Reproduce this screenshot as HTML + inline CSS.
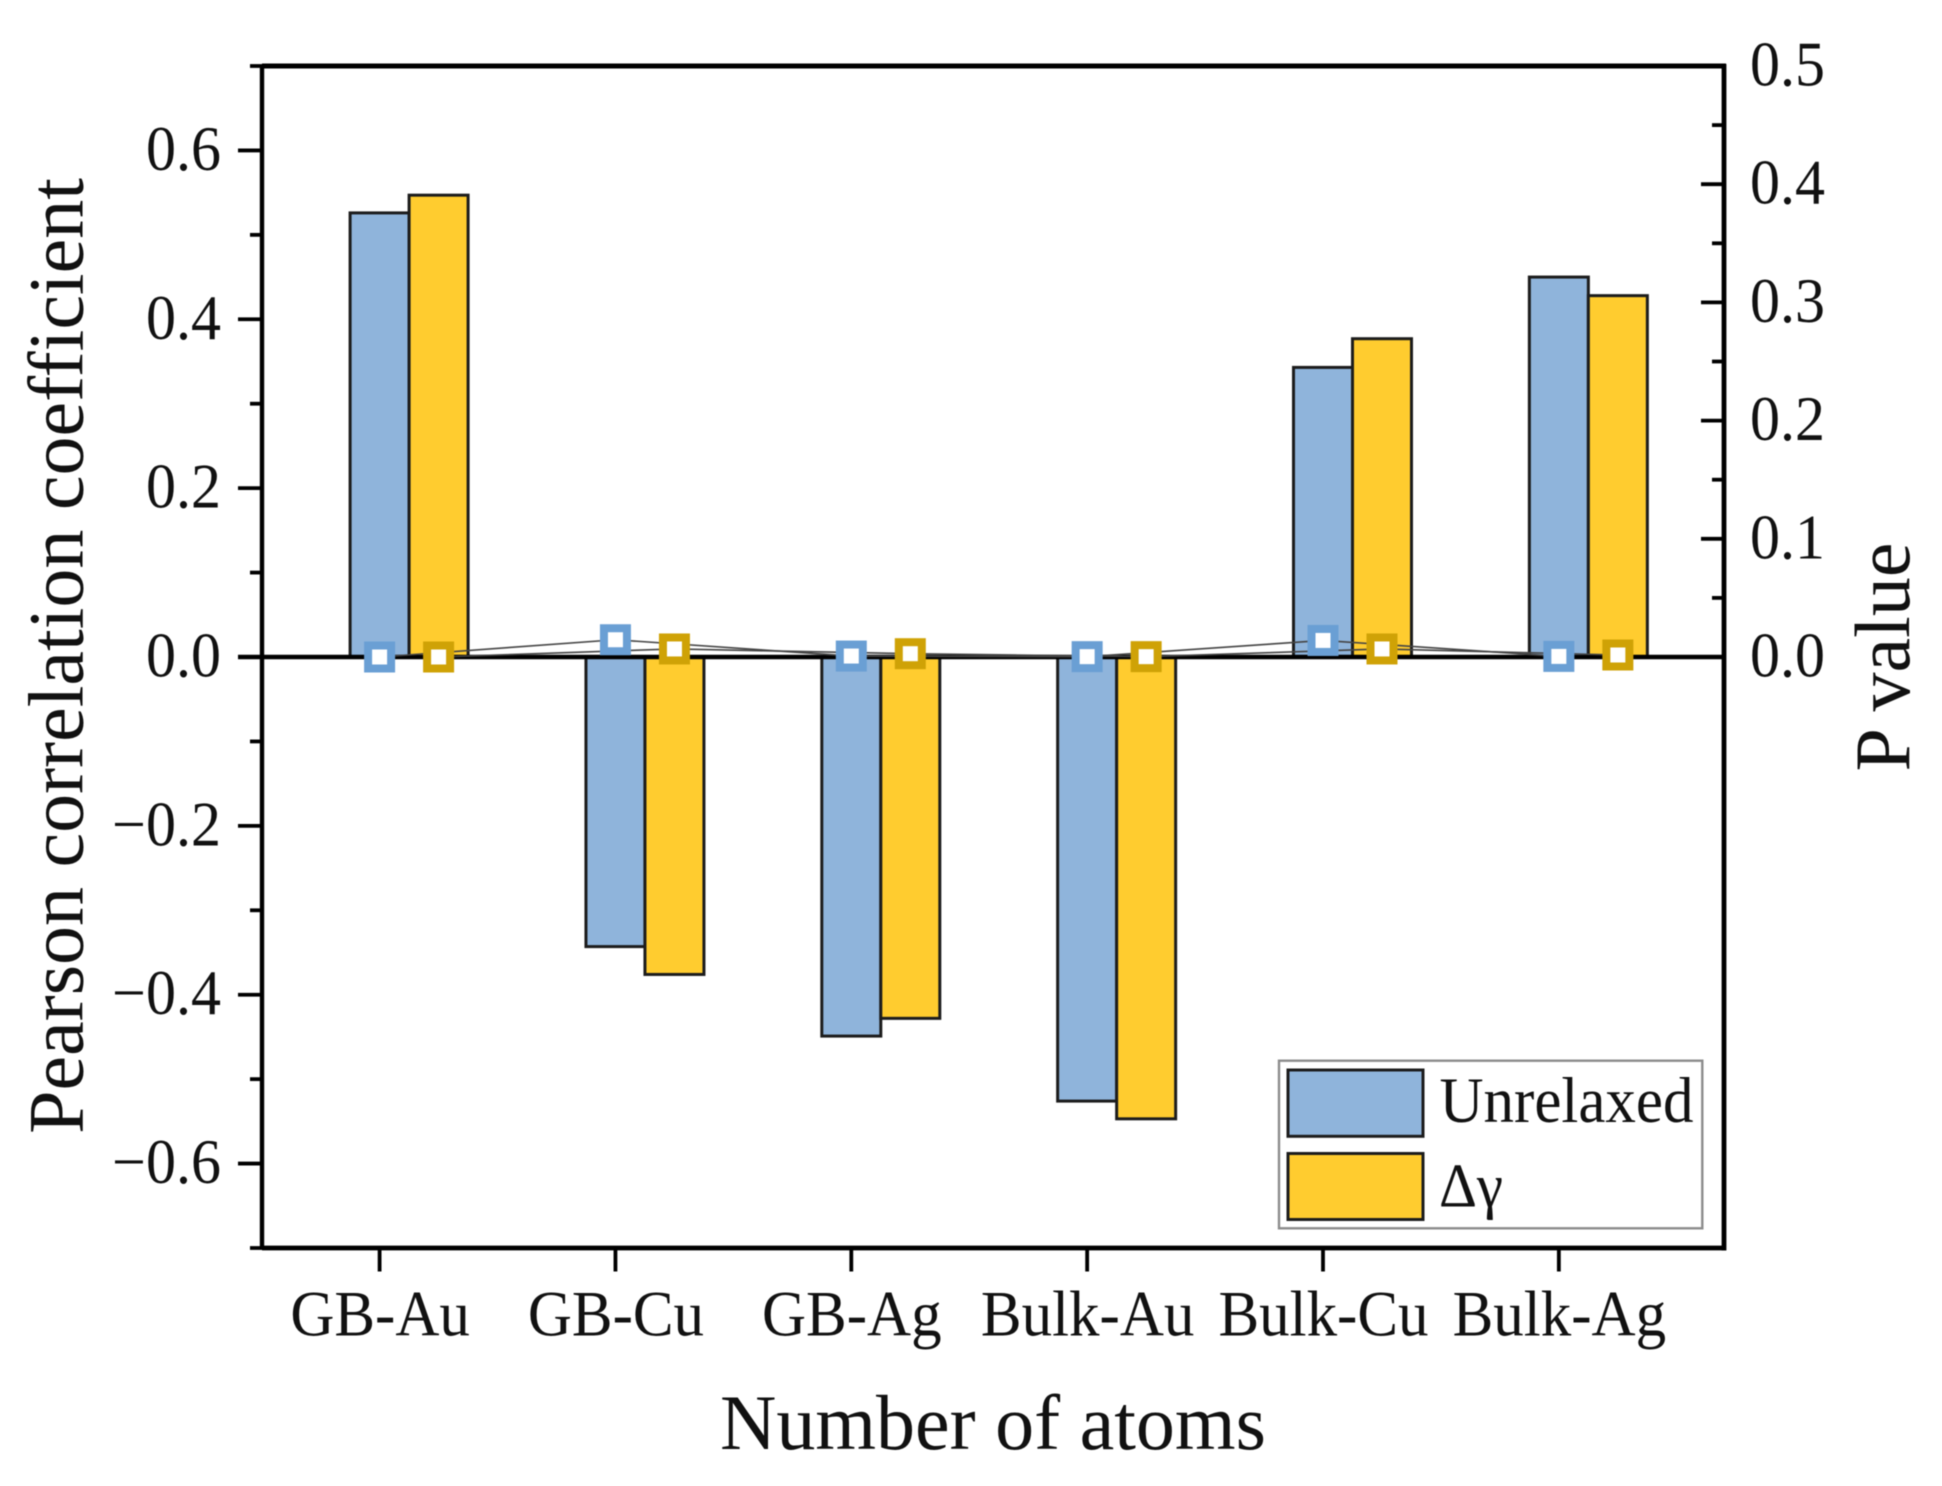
<!DOCTYPE html>
<html lang="en">
<head>
<meta charset="utf-8">
<title>Pearson correlation coefficient and P value by group</title>
<style>
html,body{margin:0;padding:0;background:#fff;}
body{width:1942px;height:1486px;overflow:hidden;}
svg{display:block;filter:blur(0.5px);}
text{font-family:"Liberation Serif","DejaVu Serif",serif;fill:#111;}
</style>
</head>
<body>
<svg id="chart" xmlns="http://www.w3.org/2000/svg" width="1942" height="1486" viewBox="0 0 1942 1486">
<rect x="0" y="0" width="1942" height="1486" fill="#ffffff"/>
</svg>
<script>
const categories = ['GB-Au', 'GB-Cu', 'GB-Ag', 'Bulk-Au', 'Bulk-Cu', 'Bulk-Ag'];
const unrelaxedPearson = [0.526, -0.343, -0.449, -0.526, 0.343, 0.450];
const deltaGammaPearson = [0.547, -0.376, -0.428, -0.547, 0.377, 0.428];
const unrelaxedP = [0.0000, 0.0146, 0.0008, 0.0003, 0.0140, 0.0005];
const deltaGammaP = [0.0000, 0.0068, 0.0028, 0.0003, 0.0068, 0.0017];
const leftMajorTicks = [-0.6, -0.4, -0.2, 0.0, 0.2, 0.4, 0.6];
const leftMinorTicks = [-0.7, -0.5, -0.3, -0.1, 0.1, 0.3, 0.5, 0.7];
const rightMajorTicks = [0.0, 0.1, 0.2, 0.3, 0.4, 0.5];
const rightMinorTicks = [0.05, 0.15, 0.25, 0.35, 0.45];
const leftTickLabels = ['\u22120.6', '\u22120.4', '\u22120.2', '0.0', '0.2', '0.4', '0.6'];
const rightTickLabels = ['0.0', '0.1', '0.2', '0.3', '0.4', '0.5'];

const svg = document.getElementById('chart');
const NS = 'http://www.w3.org/2000/svg';
const plotLeft = 262, plotRight = 1724, plotTop = 66, plotBottom = 1248;
const firstTickX = 379.6, categoryStep = 235.85, barWidth = 59;
const BLUE = '#8FB4DB', YELLOW = '#FFCC2F', BLUE_MARK = '#6A9FD4', YELLOW_MARK = '#CFA206', STROKE = '#1c1c1c';

function yLeft(v) { return plotTop + (0.7 - v) / 1.4 * (plotBottom - plotTop); }
function yRight(v) { return yLeft(0) - v / 0.5 * (yLeft(0) - plotTop); }
function xCat(i) { return firstTickX + i * categoryStep; }

function make(tag, attrs, text) {
  const el = document.createElementNS(NS, tag);
  for (const k in attrs) el.setAttribute(k, attrs[k]);
  if (text !== undefined) el.textContent = text;
  svg.appendChild(el);
  return el;
}
function seg(x1, y1, x2, y2, w, color) {
  return make('line', { x1: x1, y1: y1, x2: x2, y2: y2, stroke: color || '#000', 'stroke-width': w });
}
function tallText(x, y, size, anchor, str) {
  return make('text', { x: 0, y: 0, 'text-anchor': anchor, 'font-size': size, transform: 'translate(' + x + ' ' + y + ') scale(1 1.06)' }, str);
}
let el;

/* bars */
categories.forEach(function (c, i) {
  const x = xCat(i);
  const y0 = yLeft(0);
  const a = yLeft(unrelaxedPearson[i]);
  el = make('rect', { x: x - barWidth / 2, y: Math.min(a, y0), width: barWidth, height: Math.abs(a - y0), fill: BLUE, stroke: STROKE, 'stroke-width': 3 });
  
  
  const b = yLeft(deltaGammaPearson[i]);
  el = make('rect', { x: x + barWidth / 2, y: Math.min(b, y0), width: barWidth, height: Math.abs(b - y0), fill: YELLOW, stroke: STROKE, 'stroke-width': 3 });
  
  
});

/* zero line */
el = seg(238, yLeft(0), plotRight, yLeft(0), 4.6, '#000');



/* p-value lines */
const bluePts = unrelaxedP.map(function (v, i) { return xCat(i) + ',' + yRight(v); }).join(' ');
el = make('polyline', { points: bluePts, fill: 'none', stroke: '#444', 'stroke-width': 1.6 });


const yellowPts = deltaGammaP.map(function (v, i) { return (xCat(i) + barWidth) + ',' + yRight(v); }).join(' ');
el = make('polyline', { points: yellowPts, fill: 'none', stroke: '#444', 'stroke-width': 1.6 });



/* p-value markers */
categories.forEach(function (c, i) {
  const size = 23;
  el = make('rect', { x: xCat(i) - size / 2, y: yRight(unrelaxedP[i]) - size / 2, width: size, height: size, fill: '#fff', stroke: BLUE_MARK, 'stroke-width': 8 });
  
  
  el = make('rect', { x: xCat(i) + barWidth - size / 2, y: yRight(deltaGammaP[i]) - size / 2, width: size, height: size, fill: '#fff', stroke: YELLOW_MARK, 'stroke-width': 8 });
  
  
});

/* frame */
el = seg(plotLeft, plotTop, plotLeft, plotBottom, 4.4, '#000');


el = seg(plotRight, plotTop - 2, plotRight, plotBottom + 2.5, 4.8, '#000');


el = seg(plotLeft, plotTop, plotRight + 2, plotTop, 5, '#000');


el = seg(plotLeft, plotBottom, plotRight + 2, plotBottom, 4.8, '#000');



/* left axis */
leftMajorTicks.forEach(function (v, i) {
  el = seg(238, yLeft(v), plotLeft, yLeft(v), 3.8, '#000');
  
  
  el = tallText(221, yLeft(v) + 19.5, 60, 'end', leftTickLabels[i]);
  
  
});
leftMinorTicks.forEach(function (v) {
  el = seg(250, yLeft(v), plotLeft, yLeft(v), 3.8, '#000');
  
  
});

/* right axis */
rightMajorTicks.forEach(function (v, i) {
  el = seg(1701, yRight(v), plotRight, yRight(v), 3.8, '#000');
  
  
  el = tallText(1750, yRight(v) + 19.5, 60, 'start', rightTickLabels[i]);
  
  
});
rightMinorTicks.forEach(function (v) {
  el = seg(1712, yRight(v), plotRight, yRight(v), 3.8, '#000');
  
  
});

/* x axis */
categories.forEach(function (c, i) {
  el = seg(xCat(i), plotBottom, xCat(i), 1271.5, 3.8, '#000');
  
  
  el = tallText(xCat(i) + 0.5, 1335.5, 61, 'middle', c);
  
  
});

/* titles */
el = make('text', { x: 993, y: 1449, 'text-anchor': 'middle', 'font-size': 78 }, 'Number of atoms');


el = make('text', { x: 0, y: 0, 'text-anchor': 'middle', 'font-size': 78, transform: 'translate(82.4 656) rotate(-90)' }, 'Pearson correlation coefficient');


el = make('text', { x: 0, y: 0, 'text-anchor': 'middle', 'font-size': 78, transform: 'translate(1909 657) rotate(-90)' }, 'P value');



/* legend */
el = make('rect', { x: 1279, y: 1060.7, width: 423.3, height: 167.6, fill: '#fff', stroke: '#8c8c8c', 'stroke-width': 2.4 });


el = make('rect', { x: 1288, y: 1070, width: 135, height: 66.3, fill: BLUE, stroke: STROKE, 'stroke-width': 3 });


el = make('rect', { x: 1288, y: 1153.5, width: 135, height: 66, fill: YELLOW, stroke: STROKE, 'stroke-width': 3 });


el = tallText(1439.5, 1122, 61, 'start', 'Unrelaxed');


el = tallText(1439, 1206.5, 59, 'start', '\u0394\u03B3');


</script>
</body>
</html>
